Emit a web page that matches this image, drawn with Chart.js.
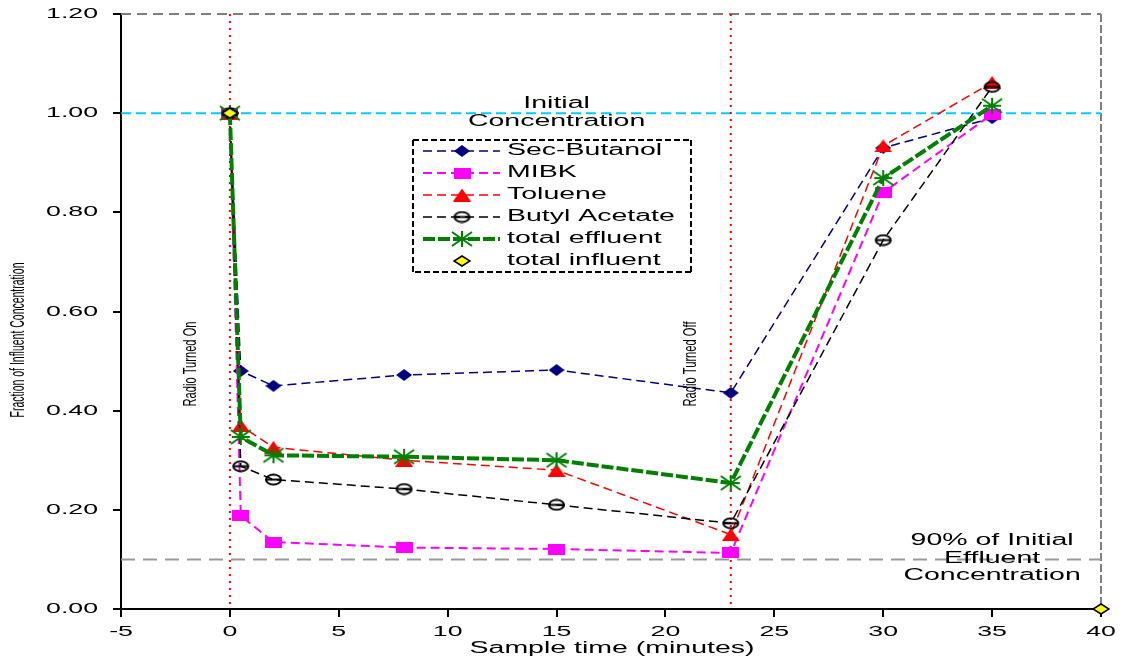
<!DOCTYPE html>
<html>
<head>
<meta charset="utf-8">
<script src="https://cdn.jsdelivr.net/npm/chart.js@4.4.1/dist/chart.umd.min.js"></script>
<style>
  body { margin: 0; background: #fff; }
  #wrap { width: 1125px; height: 661px; }
</style>
</head>
<body>
<div id="wrap"><canvas id="chart" width="1125" height="661"></canvas></div>
<script>
// sample times (minutes)
const times = [0, 0.5, 2, 8, 15, 23, 30, 35];
const influentTimes = [0, 40];

// fraction of influent concentration per series
const secButanol = [1.00, 0.48, 0.45, 0.472, 0.482, 0.436, 0.93, 0.99];
const mibk = [1.00, 0.188, 0.135, 0.124, 0.121, 0.113, 0.84, 0.998];
const toluene = [1.00, 0.37, 0.326, 0.30, 0.28, 0.15, 0.934, 1.062];
const butylAcetate = [1.00, 0.288, 0.261, 0.242, 0.21, 0.173, 0.744, 1.053];
const totalEffluent = [1.00, 0.347, 0.31, 0.307, 0.30, 0.254, 0.869, 1.015];
const totalInfluent = [1.00, 0.00];

const seriesNames = ["Sec-Butanol", "MIBK", "Toluene", "Butyl Acetate", "total effluent", "total influent"];

// reference lines
const initialLevel = 1.0;
const ninetyLevel = 0.1;
const radioOnTime = 0;
const radioOffTime = 23;

const xTicks = [-5, 0, 5, 10, 15, 20, 25, 30, 35, 40];
const yTicks = [0, 0.2, 0.4, 0.6, 0.8, 1.0, 1.2];

const FONT = '"Liberation Sans", Arial, sans-serif';
const SX = 1.78; // the original picture is stretched sideways

function pts(xs, ys) {
  return xs.map((x, i) => ({ x: x, y: ys[i] }));
}

// small canvases used as point markers
function marker(w, h, draw) {
  const c = document.createElement("canvas");
  c.width = w;
  c.height = h;
  draw(c.getContext("2d"), w, h);
  return c;
}

const navyDiamond = marker(16, 12, function (g, w, h) {
  g.fillStyle = "#000080";
  g.beginPath();
  g.moveTo(w / 2, 0); g.lineTo(w, h / 2); g.lineTo(w / 2, h); g.lineTo(0, h / 2);
  g.closePath();
  g.fill();
});
const pinkSquare = marker(17, 11, function (g, w, h) {
  g.fillStyle = "#ff00ff";
  g.fillRect(0, 0, w, h);
});
const redTriangle = marker(18, 13, function (g, w, h) {
  g.fillStyle = "#ff0000";
  g.beginPath();
  g.moveTo(w / 2, 0); g.lineTo(w, h); g.lineTo(0, h);
  g.closePath();
  g.fill();
});
const openCircle = marker(19, 13, function (g, w, h) {
  g.strokeStyle = "#000";
  g.lineWidth = 2;
  g.beginPath();
  g.ellipse(w / 2, h / 2, 7.5, 5, 0, 0, Math.PI * 2);
  g.moveTo(3, h / 2); g.lineTo(w - 3, h / 2);
  g.stroke();
});
const greenStar = marker(24, 18, function (g, w, h) {
  g.strokeStyle = "#008000";
  g.lineWidth = 2;
  g.beginPath();
  g.moveTo(w / 2, 1); g.lineTo(w / 2, h - 1);
  g.moveTo(2, 2); g.lineTo(w - 2, h - 2);
  g.moveTo(w - 2, 2); g.lineTo(2, h - 2);
  g.moveTo(3, h / 2); g.lineTo(w - 3, h / 2);
  g.stroke();
});
const yellowDiamond = marker(18, 12, function (g, w, h) {
  g.fillStyle = "#ffff00";
  g.strokeStyle = "#000";
  g.lineWidth = 1.5;
  g.beginPath();
  g.moveTo(w / 2, 1); g.lineTo(w - 1, h / 2); g.lineTo(w / 2, h - 1); g.lineTo(1, h / 2);
  g.closePath();
  g.fill();
  g.stroke();
});

function series(label, data, color, width, dash, style, order) {
  return {
    label: label,
    data: data,
    borderColor: color,
    backgroundColor: color,
    borderWidth: width,
    borderDash: dash,
    pointStyle: style,
    pointRadius: 7,
    pointHoverRadius: 7,
    tension: 0,
    clip: false,
    order: order
  };
}

const datasets = [
  series(seriesNames[0], pts(times, secButanol), "#000080", 1.5, [9, 5], navyDiamond, 5),
  series(seriesNames[1], pts(times, mibk), "#ff00ff", 2, [9, 5], pinkSquare, 4),
  series(seriesNames[2], pts(times, toluene), "#ff0000", 1.5, [9, 5], redTriangle, 3),
  series(seriesNames[3], pts(times, butylAcetate), "#000000", 1.5, [9, 5], openCircle, 2),
  series(seriesNames[4], pts(times, totalEffluent), "#008000", 4, [12, 3], greenStar, 1),
  Object.assign(series(seriesNames[5], pts(influentTimes, totalInfluent), "#ffff00", 0, [], yellowDiamond, 0), { showLine: false })
];

function stretchText(ctx, text, x, y, size, align) {
  ctx.save();
  ctx.font = size + "px " + FONT;
  ctx.fillStyle = "#000";
  ctx.textAlign = align;
  ctx.textBaseline = "middle";
  ctx.translate(x, y);
  ctx.scale(SX, 1);
  ctx.fillText(text, 0, 0);
  ctx.restore();
}

// vertical text squeezed along its length
function upText(ctx, text, x, y, size, len, thick) {
  ctx.save();
  ctx.font = size + "px " + FONT;
  ctx.fillStyle = "#000";
  ctx.textAlign = "center";
  ctx.textBaseline = "middle";
  const w = ctx.measureText(text).width;
  ctx.translate(x, y);
  ctx.rotate(-Math.PI / 2);
  ctx.scale(len / w, thick);
  ctx.fillText(text, 0, 0);
  ctx.restore();
}

function line(ctx, x1, y1, x2, y2, color, width, dash) {
  ctx.save();
  ctx.strokeStyle = color;
  ctx.lineWidth = width;
  ctx.setLineDash(dash);
  ctx.beginPath();
  ctx.moveTo(x1, y1);
  ctx.lineTo(x2, y2);
  ctx.stroke();
  ctx.restore();
}

const overlay = {
  id: "overlay",
  beforeDatasetsDraw(chart) {
    const ctx = chart.ctx;
    const a = chart.chartArea;
    const x = chart.scales.x;
    const y = chart.scales.y;

    // frame on top and right
    line(ctx, a.left, y.getPixelForValue(1.2), a.right, y.getPixelForValue(1.2), "#808080", 2, [10, 6]);
    line(ctx, a.right, a.top, a.right, a.bottom, "#808080", 2, [8, 3]);

    // initial concentration and 90% levels
    const yi = y.getPixelForValue(initialLevel);
    line(ctx, a.left, yi, a.right, yi, "#00ccff", 2, [10, 5]);
    const yn = y.getPixelForValue(ninetyLevel);
    line(ctx, a.left, yn, a.right, yn, "#999999", 2, [14, 8]);

    // radio on / off markers
    [radioOnTime, radioOffTime].forEach(function (t) {
      const px = x.getPixelForValue(t);
      line(ctx, px, a.top, px, a.bottom, "#ff0000", 2, [2, 5]);
    });
  },
  afterDraw(chart) {
    const ctx = chart.ctx;
    const a = chart.chartArea;
    const x = chart.scales.x;
    const y = chart.scales.y;

    // tick labels
    yTicks.forEach(function (v) {
      stretchText(ctx, v.toFixed(2), 98, y.getPixelForValue(v), 15, "right");
    });
    xTicks.forEach(function (v) {
      stretchText(ctx, String(v), x.getPixelForValue(v), 632, 15, "center");
    });

    // axis titles
    stretchText(ctx, "Sample time (minutes)", (a.left + a.right) / 2 + 1, 649, 16, "center");
    upText(ctx, "Fraction of Influent Concentration", 18, 340, 13, 155, 1.6);

    // radio labels
    upText(ctx, "Radio Turned On", x.getPixelForValue(radioOnTime) - 39, 364, 10, 85, 1.8);
    upText(ctx, "Radio Turned Off", x.getPixelForValue(radioOffTime) - 40, 364, 10, 85, 1.8);

    // level labels
    const yi = y.getPixelForValue(initialLevel);
    const xi = x.getPixelForValue(15);
    stretchText(ctx, "Initial", xi, yi - 10, 16, "center");
    stretchText(ctx, "Concentration", xi, yi + 8, 16, "center");
    const yn = y.getPixelForValue(ninetyLevel);
    const xn = x.getPixelForValue(35);
    stretchText(ctx, "90% of Initial", xn, yn - 19, 16, "center");
    stretchText(ctx, "Effluent", xn, yn - 1, 16, "center");
    stretchText(ctx, "Concentration", xn, yn + 16, 16, "center");

    // legend box
    const box = { left: 413, top: 140, right: 691, bottom: 272 };
    ctx.save();
    ctx.fillStyle = "#fff";
    ctx.fillRect(box.left, box.top, box.right - box.left, box.bottom - box.top);
    ctx.restore();
    line(ctx, box.left, box.top, box.right, box.top, "#000", 2, [6, 3]);
    line(ctx, box.right, box.top, box.right, box.bottom, "#000", 2, [6, 3]);
    line(ctx, box.right, box.bottom, box.left, box.bottom, "#000", 2, [6, 3]);
    line(ctx, box.left, box.bottom, box.left, box.top, "#000", 2, [6, 3]);

    datasets.forEach(function (ds, i) {
      const ry = 151 + i * 22;
      if (ds.showLine !== false) {
        line(ctx, 423, ry, 500, ry, ds.borderColor, ds.borderWidth, ds.borderDash);
      }
      const img = ds.pointStyle;
      ctx.drawImage(img, 462 - img.width / 2, ry - img.height / 2);
      stretchText(ctx, ds.label, 507, ry, 16, "left");
    });
  }
};

document.addEventListener("DOMContentLoaded", function () {
  const ctx = document.getElementById("chart").getContext("2d");

  new Chart(ctx, {
    type: "line",
    data: { datasets: datasets },
    options: {
      responsive: false,
      animation: false,
      layout: { padding: { top: 14, right: 24, left: 0, bottom: 0 } },
      plugins: {
        legend: { display: false },
        tooltip: { enabled: false }
      },
      scales: {
        x: {
          type: "linear",
          min: -5,
          max: 40,
          ticks: { display: false, stepSize: 5 },
          grid: { drawOnChartArea: false, drawTicks: true, tickLength: 8, color: "#000", lineWidth: 2 },
          border: { display: true, color: "#000", width: 2 },
          afterFit: function (scale) { scale.height = 52; }
        },
        y: {
          min: 0,
          max: 1.2,
          ticks: { display: false, stepSize: 0.2 },
          grid: { drawOnChartArea: false, drawTicks: true, tickLength: 8, color: "#000", lineWidth: 2 },
          border: { display: true, color: "#000", width: 2 },
          afterFit: function (scale) { scale.width = 121; }
        }
      }
    },
    plugins: [overlay]
  });
});
</script>
</body>
</html>
